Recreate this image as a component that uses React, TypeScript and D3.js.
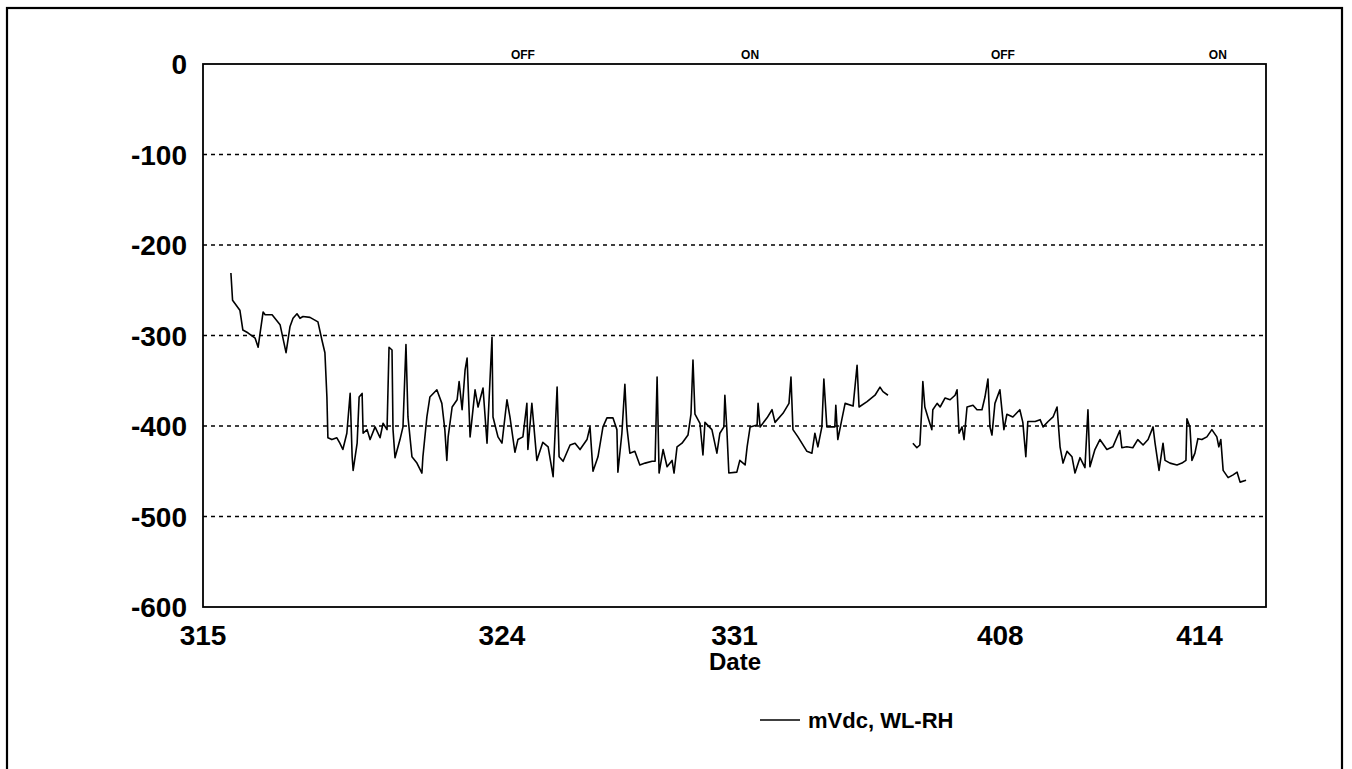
import React from "react";
import * as d3 from "d3";

// Days since 3/15 (fractional) and mVdc values
const seg1Days = [0.84,0.89,1.11,1.20,1.35,1.57,1.66,1.72,1.81,1.87,2.08,2.32,2.50,2.62,2.71,2.83,2.92,3.01,3.22,3.46,3.58,3.67,3.73,3.76,3.88,4.03,4.12,4.21,4.33,4.43,4.49,4.52,4.64,4.70,4.79,4.82,4.94,5.03,5.18,5.33,5.42,5.54,5.60,5.69,5.72,5.78,5.93,6.02,6.11,6.17,6.29,6.44,6.59,6.62,6.74,6.83,7.04,7.19,7.28,7.34,7.38,7.50,7.65,7.71,7.80,7.89,7.95,8.04,8.19,8.28,8.43,8.55,8.70,8.73,8.88,9.00,9.15,9.24,9.39,9.48,9.63,9.75,9.78,9.90,10.05,10.23,10.39,10.54,10.66,10.72,10.84,11.05,11.20,11.35,11.56,11.65,11.74,11.89,12.04,12.16,12.34,12.46,12.49,12.61,12.70,12.76,12.85,13.00,13.15,13.31,13.52,13.61,13.67,13.73,13.85,13.97,14.12,14.18,14.27,14.42,14.60,14.69,14.75,14.81,14.96,15.05,15.11,15.32,15.47,15.56,15.68,15.71,15.77,15.83,16.07,16.16,16.32,16.38,16.47,16.68,16.71,16.77,16.98,17.13,17.22,17.46,17.64,17.70,17.76,17.91,18.18,18.33,18.42,18.51,18.63,18.69,18.78,19.02,19.05,19.11,19.23,19.33,19.57,19.69,19.75,19.99,20.23,20.38,20.47,20.62];
const seg1Values = [-231,-261,-272,-294,-297,-303,-313,-297,-274,-277,-277,-288,-319,-290,-281,-276,-281,-279,-280,-285,-305,-319,-368,-413,-415,-413,-419,-426,-408,-364,-434,-449,-419,-368,-364,-408,-404,-415,-401,-413,-397,-404,-313,-316,-404,-435,-415,-401,-310,-390,-434,-441,-452,-434,-390,-368,-360,-375,-404,-438,-412,-379,-371,-351,-382,-338,-325,-412,-360,-379,-358,-419,-302,-390,-412,-419,-371,-390,-429,-415,-412,-375,-426,-375,-438,-418,-423,-456,-357,-434,-439,-421,-419,-426,-415,-401,-450,-434,-401,-391,-391,-404,-451,-408,-354,-401,-430,-428,-443,-441,-439,-439,-346,-452,-426,-445,-438,-452,-423,-419,-410,-387,-327,-387,-397,-432,-396,-404,-430,-408,-401,-366,-404,-452,-451,-438,-443,-423,-401,-399,-375,-401,-391,-382,-396,-386,-375,-346,-404,-412,-428,-430,-408,-423,-401,-348,-401,-401,-377,-415,-393,-375,-378,-333,-379,-373,-366,-357,-362,-366];
const seg2Days = [21.37,21.49,21.58,21.64,21.67,21.73,21.82,21.94,21.97,22.10,22.19,22.34,22.49,22.64,22.70,22.76,22.85,22.91,23.00,23.18,23.30,23.45,23.54,23.63,23.69,23.75,23.84,23.99,24.11,24.20,24.38,24.59,24.68,24.77,24.83,25.05,25.20,25.29,25.44,25.59,25.71,25.80,25.89,26.01,26.16,26.25,26.40,26.55,26.64,26.70,26.85,27.00,27.21,27.39,27.60,27.66,27.81,27.99,28.14,28.30,28.45,28.60,28.66,28.78,28.90,28.96,29.11,29.32,29.47,29.59,29.62,29.71,29.77,29.86,29.95,30.07,30.22,30.37,30.52,30.58,30.64,30.71,30.86,31.01,31.13,31.22,31.40];
const seg2Values = [-419,-424,-421,-379,-351,-379,-390,-404,-382,-375,-379,-369,-371,-366,-360,-408,-401,-415,-379,-377,-382,-382,-368,-348,-401,-410,-375,-360,-404,-387,-390,-382,-396,-434,-395,-395,-393,-401,-395,-390,-379,-423,-441,-428,-434,-452,-435,-446,-382,-445,-426,-415,-426,-423,-405,-424,-423,-424,-415,-421,-415,-401,-419,-449,-419,-438,-441,-443,-441,-438,-392,-401,-438,-430,-414,-415,-412,-404,-412,-423,-415,-449,-457,-454,-451,-462,-460];

const xTickDays = [0, 9, 16, 24, 30];
const xTickLabels = ["315", "324", "331", "408", "414"];
const yTicks = [0, -100, -200, -300, -400, -500, -600];
const gridValues = [-100, -200, -300, -400, -500];
const stateDays = [9.63, 16.47, 24.08, 30.55];
const stateLabels = ["OFF", "ON", "OFF", "ON"];
const seriesName = "mVdc, WL-RH";
const xTitle = "Date";

const W = 1352, H = 769;
const plot = { left: 203, right: 1266, top: 64, bottom: 607 };
const FONT = "'Liberation Sans', Arial, sans-serif";

export default function App() {
  const x = d3.scaleLinear().domain([0, 32]).range([plot.left, plot.right]);
  const y = d3.scaleLinear().domain([-600, 0]).range([plot.bottom, plot.top]);
  const line = d3.line<[number, number]>().x(d => x(d[0])).y(d => y(d[1]));
  const s1 = seg1Days.map((d, i) => [d, seg1Values[i]] as [number, number]);
  const s2 = seg2Days.map((d, i) => [d, seg2Values[i]] as [number, number]);

  return (
    <svg width={W} height={H} style={{ position: "absolute", left: 0, top: 0, background: "#fff" }}>
      <rect x={7} y={8} width={1335} height={780} fill="none" stroke="#000" strokeWidth={2.2} />
      {gridValues.map(v => (
        <line key={v} x1={plot.left} x2={plot.right} y1={y(v)} y2={y(v)} stroke="#000" strokeWidth={1.6} strokeDasharray="4,4" />
      ))}
      <rect x={plot.left} y={plot.top} width={plot.right - plot.left} height={plot.bottom - plot.top} fill="none" stroke="#000" strokeWidth={1.8} />
      <path d={line(s1) || ""} fill="none" stroke="#000" strokeWidth={1.6} strokeLinejoin="round" />
      <path d={line(s2) || ""} fill="none" stroke="#000" strokeWidth={1.6} strokeLinejoin="round" />
      {yTicks.map(v => (
        <text key={v} x={187} y={y(v) + 10} textAnchor="end" fontFamily={FONT} fontWeight="bold" fontSize={28}>{v}</text>
      ))}
      {xTickDays.map((d, i) => (
        <text key={d} x={x(d)} y={645} textAnchor="middle" fontFamily={FONT} fontWeight="bold" fontSize={28}>{xTickLabels[i]}</text>
      ))}
      <text x={735} y={670} textAnchor="middle" fontFamily={FONT} fontWeight="bold" fontSize={24}>{xTitle}</text>
      {stateDays.map((d, i) => (
        <text key={i} x={x(d)} y={59} textAnchor="middle" fontFamily={FONT} fontWeight="bold" fontSize={12}>{stateLabels[i]}</text>
      ))}
      <line x1={760} x2={800} y1={720} y2={720} stroke="#000" strokeWidth={1.5} />
      <text x={808} y={728} fontFamily={FONT} fontWeight="bold" fontSize={22}>{seriesName}</text>
    </svg>
  );
}
